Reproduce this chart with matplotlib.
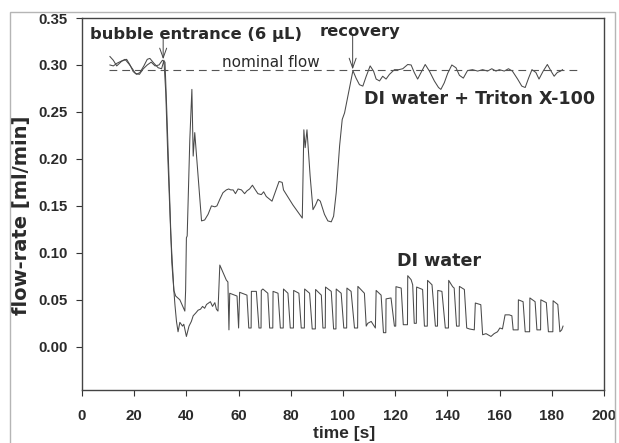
import numpy as np
import matplotlib
matplotlib.use("Agg")
import matplotlib.pyplot as plt
from matplotlib.patches import Rectangle

# (time [s], flow-rate [ml/min])
triton = [
    (10.7, 0.309), (12.0, 0.305), (13.3, 0.299), (15.2, 0.304), (17.1, 0.306),
    (18.4, 0.300), (19.6, 0.293), (20.9, 0.290), (22.2, 0.292), (23.7, 0.299),
    (25.0, 0.306), (26.0, 0.307), (27.5, 0.302), (29.2, 0.297), (30.5, 0.296),
    (31.4, 0.305), (32.1, 0.270), (32.9, 0.200), (34.0, 0.120), (35.2, 0.060),
    (35.9, 0.054), (36.7, 0.052), (37.5, 0.050), (39.4, 0.038), (39.7, 0.060),
    (40.0, 0.116), (40.3, 0.118), (41.3, 0.220), (42.1, 0.274), (42.6, 0.203),
    (43.2, 0.228), (45.8, 0.134), (47.0, 0.135), (48.3, 0.141), (49.6, 0.150),
    (50.9, 0.149), (51.7, 0.150), (52.8, 0.157), (54.0, 0.164), (55.3, 0.167),
    (56.2, 0.168), (57.0, 0.167), (57.9, 0.167), (58.8, 0.163), (59.8, 0.168),
    (61.1, 0.167), (62.3, 0.163), (63.2, 0.166), (64.2, 0.168), (65.3, 0.172),
    (66.2, 0.168), (67.4, 0.163), (68.7, 0.162), (69.6, 0.165), (70.6, 0.160),
    (71.9, 0.157), (72.8, 0.155), (74.2, 0.166), (75.5, 0.176), (76.7, 0.175),
    (77.2, 0.167), (80.8, 0.151), (84.4, 0.137), (85.0, 0.231), (85.5, 0.212),
    (86.2, 0.231), (87.4, 0.182), (88.5, 0.146), (89.5, 0.151), (90.4, 0.157),
    (91.3, 0.155), (92.9, 0.141), (94.2, 0.134), (95.5, 0.133), (96.4, 0.139),
    (97.4, 0.164), (98.7, 0.214), (99.7, 0.242), (100.6, 0.249), (101.8, 0.266),
    (102.8, 0.280), (103.8, 0.294), (105.0, 0.286), (106.3, 0.279), (107.6, 0.2775),
    (108.9, 0.288), (110.4, 0.299), (111.7, 0.2935), (112.7, 0.285), (114.0, 0.283),
    (115.2, 0.288), (116.5, 0.285), (117.8, 0.290), (119.7, 0.295), (121.4, 0.295),
    (122.9, 0.296), (124.8, 0.3005), (126.1, 0.300), (127.3, 0.292), (128.6, 0.285),
    (129.9, 0.292), (131.5, 0.3005), (133.1, 0.2935), (135.0, 0.283), (136.6, 0.276),
    (137.5, 0.274), (138.8, 0.281), (140.1, 0.291), (141.7, 0.300), (143.3, 0.297),
    (144.6, 0.289), (146.1, 0.286), (147.7, 0.294), (149.6, 0.295), (151.6, 0.2935),
    (153.5, 0.295), (155.4, 0.2935), (157.0, 0.296), (158.6, 0.2935), (159.9, 0.295),
    (161.8, 0.2935), (163.4, 0.296), (164.9, 0.2935), (166.9, 0.285), (168.5, 0.2775),
    (169.8, 0.276), (171.1, 0.286), (172.4, 0.295), (173.9, 0.292), (175.1, 0.285),
    (176.7, 0.2935), (178.3, 0.3005), (179.6, 0.294), (180.9, 0.288), (182.1, 0.292),
    (183.4, 0.2935), (184.1, 0.295),
]

di_water = [
    (10.7, 0.300), (12.0, 0.299), (13.5, 0.302), (15.0, 0.304), (16.5, 0.306),
    (18.0, 0.301), (19.3, 0.296), (20.5, 0.291), (22.0, 0.290), (23.5, 0.296),
    (25.0, 0.300), (26.5, 0.303), (28.0, 0.299), (29.5, 0.300), (30.8, 0.305),
    (31.8, 0.303), (32.5, 0.250), (33.7, 0.150), (34.4, 0.090), (35.6, 0.045),
    (36.2, 0.027), (36.8, 0.016), (37.5, 0.026), (38.5, 0.022), (39.0, 0.024),
    (40.0, 0.011), (41.0, 0.022), (41.9, 0.027), (42.6, 0.033), (43.6, 0.036),
    (44.5, 0.039), (45.4, 0.040), (46.2, 0.043), (47.0, 0.041), (47.7, 0.045),
    (48.7, 0.047), (49.2, 0.048), (50.0, 0.043), (50.9, 0.047), (51.5, 0.040),
    (52.1, 0.038), (52.8, 0.087), (55.3, 0.071), (55.9, 0.069), (56.3, 0.018),
    (56.6, 0.057), (59.4, 0.054), (60.0, 0.020),
    (60.4, 0.058), (63.2, 0.055), (63.9, 0.020),
    (64.8, 0.020), (64.9, 0.059), (66.8, 0.059), (67.8, 0.020),
    (68.6, 0.020), (68.7, 0.060), (69.3, 0.0615), (71.2, 0.057), (71.9, 0.020),
    (73.1, 0.020), (73.2, 0.059), (75.1, 0.057), (76.0, 0.020),
    (77.1, 0.020), (77.2, 0.0615), (78.9, 0.057), (79.8, 0.020),
    (81.0, 0.020), (81.1, 0.060), (83.1, 0.057), (84.0, 0.020),
    (85.2, 0.020), (85.3, 0.0615), (87.2, 0.057), (88.2, 0.019),
    (89.4, 0.019), (89.5, 0.061), (91.7, 0.055), (92.3, 0.020),
    (93.2, 0.020), (93.3, 0.0636), (95.5, 0.059), (96.4, 0.019),
    (97.3, 0.019), (97.4, 0.0615), (99.3, 0.057), (100.3, 0.020),
    (101.4, 0.020), (101.5, 0.0625), (103.1, 0.059), (104.4, 0.020),
    (105.6, 0.020), (105.7, 0.0643), (108.2, 0.057), (108.9, 0.022),
    (109.5, 0.025), (110.8, 0.027), (112.4, 0.020),
    (112.7, 0.060), (114.6, 0.055), (115.5, 0.015),
    (116.4, 0.015), (116.5, 0.051), (118.4, 0.052), (119.7, 0.022),
    (120.2, 0.022), (120.3, 0.064), (122.3, 0.0625), (123.1, 0.0235),
    (124.7, 0.0235), (124.8, 0.0757), (126.1, 0.0714), (126.7, 0.066), (127.3, 0.025),
    (128.1, 0.025), (128.2, 0.0636), (130.5, 0.061), (131.2, 0.022),
    (132.3, 0.022), (132.4, 0.0707), (134.1, 0.066), (135.4, 0.022),
    (136.2, 0.022), (136.3, 0.060), (137.9, 0.059), (139.2, 0.020),
    (140.4, 0.020), (140.5, 0.0707), (142.0, 0.064), (142.6, 0.0625), (143.5, 0.022),
    (144.5, 0.022), (144.6, 0.0643), (146.5, 0.061), (147.4, 0.020),
    (148.4, 0.019), (150.3, 0.018),
    (150.7, 0.0466), (152.8, 0.0448), (153.5, 0.0128),
    (154.8, 0.014), (156.7, 0.011), (157.9, 0.014), (159.2, 0.016), (160.1, 0.020),
    (161.1, 0.019), (162.1, 0.034), (163.7, 0.034), (164.7, 0.033), (165.2, 0.018),
    (167.1, 0.018), (167.2, 0.050), (169.0, 0.048), (169.8, 0.016),
    (171.5, 0.016), (171.6, 0.052), (173.6, 0.048), (174.3, 0.018),
    (175.7, 0.018), (175.8, 0.050), (177.9, 0.047), (178.7, 0.016),
    (180.4, 0.016), (180.5, 0.049), (182.3, 0.045), (183.1, 0.016),
    (183.8, 0.018), (184.3, 0.022),
]

nominal_flow = 0.295
nominal_span = [10.5, 190.0]
bubble_time = 31.1
recovery_time = 103.7

x_ticks = list(range(0, 201, 20))
y_ticks = [0.00, 0.05, 0.10, 0.15, 0.20, 0.25, 0.30, 0.35]

line_col = "#4a4a4a"
text_col = "#2a2a2a"
tick_font = dict(family="Liberation Sans", weight="bold", size=10.8)
note_font = dict(family="DejaVu Sans", weight="bold")

fig = plt.figure(figsize=(6.19, 4.43), dpi=100)
ax = fig.add_axes([82 / 619, 1 - 390 / 443, (604 - 82) / 619, (390 - 18) / 443])

# grey frame around the whole figure
fig.add_artist(Rectangle((10 / 619, -0.05), (615 - 10) / 619, 1.05 - 12 / 443,
                         transform=fig.transFigure, fill=False,
                         ec="#b5b5b5", lw=1.0))

tr = np.array(triton)
dw = np.array(di_water)
ax.plot(tr[:, 0], tr[:, 1], color=line_col, lw=0.75)
ax.plot(dw[:, 0], dw[:, 1], color=line_col, lw=0.75)
ax.plot(nominal_span, [nominal_flow, nominal_flow], color="#555555", lw=0.8,
        linestyle=(0, (7, 4.5)))

ax.set_xlim(0, 200)
ax.set_ylim(-0.046, 0.35)
ax.set_xticks(x_ticks)
ax.set_yticks(y_ticks)
ax.set_xticklabels([str(v) for v in x_ticks], fontdict=tick_font)
ax.set_yticklabels([f"{v:.2f}" for v in y_ticks], fontdict=tick_font)
ax.tick_params(axis="both", direction="out", length=4, width=0.8,
               colors="#333333", labelcolor=text_col)
ax.tick_params(axis="x", pad=10)
ax.tick_params(axis="y", pad=6.5)
for s in ax.spines.values():
    s.set_color("#444444")
    s.set_linewidth(1.0)

ax.set_ylabel("flow-rate [ml/min]", family="DejaVu Sans", weight="bold",
              size=14, color=text_col)
ax.yaxis.set_label_coords(-0.098, 0.47)
ax.set_xlabel("time [s]", family="Liberation Sans", weight="bold",
              size=12.5, color=text_col)
ax.xaxis.set_label_coords(0.502, -0.098)

arrow = dict(arrowstyle="->,head_length=0.7,head_width=0.25", lw=0.7,
             color="#444444", shrinkA=0, shrinkB=0)
ax.annotate("", xy=(bubble_time, 0.306), xytext=(bubble_time, 0.329),
            arrowprops=arrow)
ax.annotate("", xy=(recovery_time, 0.2953), xytext=(recovery_time, 0.3326),
            arrowprops=arrow)

ax.text(43.8, 0.3273, "bubble entrance (6 µL)", ha="center", va="baseline",
        size=11.8, color=text_col, **note_font)
ax.text(106.7, 0.331, "recovery", ha="center", va="baseline",
        size=11.8, color=text_col, **note_font)
ax.text(53.5, 0.2975, "nominal flow", ha="left", va="baseline",
        size=11, family="DejaVu Sans", color=text_col)
ax.text(108.2, 0.258, "DI water + Triton X-100", ha="left", va="baseline",
        size=12.6, color=text_col, **note_font)
ax.text(120.8, 0.0856, "DI water", ha="left", va="baseline",
        size=12.6, color=text_col, **note_font)

fig.savefig("out.png", dpi=100)
